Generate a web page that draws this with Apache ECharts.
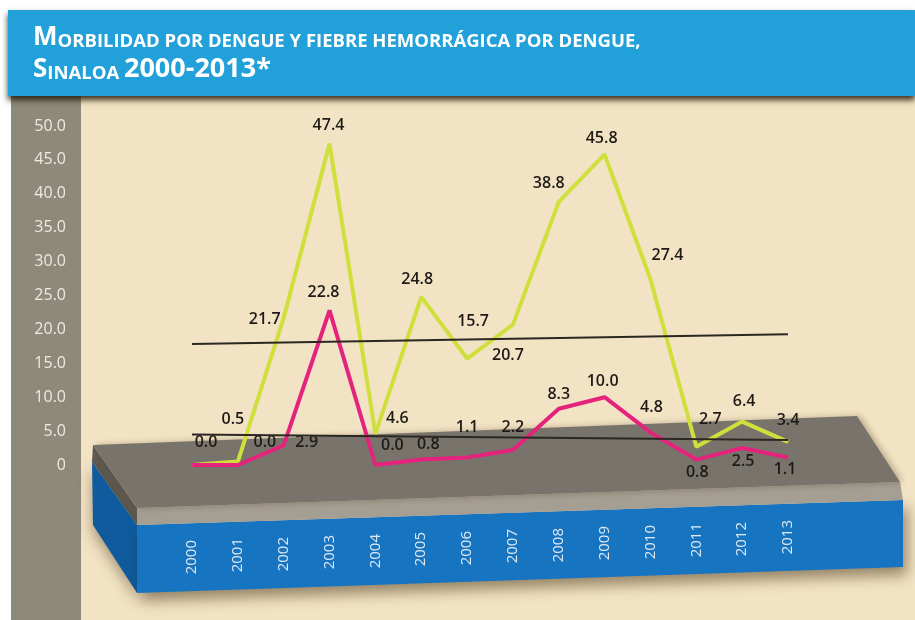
<!DOCTYPE html>
<html>
<head>
<meta charset="utf-8">
<script src="https://cdn.jsdelivr.net/npm/echarts@6/dist/echarts.min.js"></script>
<style>
  html, body { margin: 0; padding: 0; background: #ffffff; }
  #chart { width: 915px; height: 620px; }
</style>
</head>
<body>
<div id="chart"></div>
<script>
// Morbilidad por dengue (DF) y fiebre hemorrágica (FHD), Sinaloa 2000-2013, tasa por 100 000 hab.
const years = ['2000','2001','2002','2003','2004','2005','2006','2007','2008','2009','2010','2011','2012','2013'];
const dengueRate = [0.0, 0.5, 21.7, 47.4, 4.6, 24.8, 15.7, 20.7, 38.8, 45.8, 27.4, 2.7, 6.4, 3.4];
const hemorrhagicRate = [0.0, 0.0, 2.9, 22.8, 0.0, 0.8, 1.1, 2.2, 8.3, 10.0, 4.8, 0.8, 2.5, 1.1];
const yTicks = { min: 0, max: 50, step: 5 };

// Label placement (offset of each value label from its point, in px)
const dengueLabelOffsets = [[14,-23],[-5,-42],[-19,2],[-1,-18],[22,-15],[-4,-17],[6,-37],[-5,31],[-10,-18],[-3,-16],[17,-24],[14,-27],[2,-20],[0,-22]];
const hemorrhagicLabelOffsets = [null,[27,-23],[23,-3],[-6,-18],[17,-20],[7,-15],[0,-30],[0,-23],[0,-14],[-2,-16],[1,-25],[1,13],[1,13],[-3,12]];

// Least-squares linear trend for a series
function trend(values) {
  const n = values.length;
  const mx = (n - 1) / 2;
  const my = values.reduce((a, b) => a + b, 0) / n;
  let sxy = 0, sxx = 0;
  values.forEach((v, i) => { sxy += (i - mx) * (v - my); sxx += (i - mx) * (i - mx); });
  const b = sxy / sxx;
  const a = my - b * mx;
  return [[{ coord: [0, a] }, { coord: [n - 1, a + b * (n - 1)] }]];
}

function pointData(values, offsets) {
  return values.map((v, i) => {
    const off = offsets[i];
    return off
      ? { value: v, label: { show: true, offset: off } }
      : { value: v, label: { show: false } };
  });
}

const labelStyle = {
  position: 'inside',
  fontFamily: 'Open Sans',
  fontWeight: 600,
  fontSize: 16,
  color: '#1e1a16',
  formatter: p => p.value.toFixed(1)
};

// year labels sit on the slanted front face of the platform
const yearRich = {};
years.forEach((y, i) => {
  yearRich['p' + i] = { padding: [0, Math.round(20 * (years.length - 1 - i) / (years.length - 1)), 0, 0] };
});

const chart = echarts.init(document.getElementById('chart'), null, { renderer: 'canvas' });

chart.setOption({
  backgroundColor: '#f3e3c5',
  animation: false,
  grid: { left: 192, right: 127, top: 126, bottom: 155 },
  graphic: [
    { type: 'rect', z: 0, shape: { x: 0, y: 0, width: 915, height: 10 }, style: { fill: '#ffffff' } },
    { type: 'rect', z: 0, shape: { x: 0, y: 0, width: 11, height: 620 }, style: { fill: '#ffffff' } },
    { type: 'rect', z: 0, shape: { x: 11, y: 96, width: 70, height: 524 }, style: { fill: '#8d8a7a' } },
    // platform: left side faces
    { type: 'polygon', z: 0, shape: { points: [[93,445],[137,508],[137,525],[92,462]] }, style: { fill: '#5f5a52' } },
    { type: 'polygon', z: 0, shape: { points: [[92,462],[137,525],[137,593],[93,525]] },
      style: { fill: '#0f5b9e', shadowBlur: 14, shadowColor: 'rgba(60,40,10,0.45)', shadowOffsetY: 6 } },
    // front blue face
    { type: 'polygon', z: 0, shape: { points: [[137,525],[903,500],[903,567],[137,593]] },
      style: { fill: '#1774c1', shadowBlur: 14, shadowColor: 'rgba(60,40,10,0.5)', shadowOffsetY: 8, shadowOffsetX: 4 } },
    // light front strip of the top slab
    { type: 'polygon', z: 0, shape: { points: [[137,508],[900,482],[903,500],[137,525]] }, style: { fill: '#a59e93' } },
    // top face
    { type: 'polygon', z: 0, shape: { points: [[93,445],[857,416],[900,482],[137,508]] },
      style: { fill: '#78746c', shadowBlur: 6, shadowColor: 'rgba(60,40,10,0.3)', shadowOffsetX: 3 } },
    // header band
    { type: 'rect', z: 1, shape: { x: 8, y: 10, width: 907, height: 86 },
      style: { fill: '#22a0d9', shadowBlur: 6, shadowColor: 'rgba(40,30,10,0.9)', shadowOffsetY: 4 } },
    { type: 'text', z: 2, left: 33, top: 25,
      style: {
        text: '{b|M}{s|ORBILIDAD POR DENGUE Y FIEBRE HEMORRÁGICA POR DENGUE,}\n{b|S}{s|INALOA }{y|2000-2013*}',
        fill: '#ffffff',
        rich: {
          b: { fontFamily: 'Open Sans', fontWeight: 'bold', fontSize: 26, lineHeight: 32, verticalAlign: 'bottom', fill: '#ffffff' },
          y: { fontFamily: 'Open Sans', fontWeight: 'bold', fontSize: 27, lineHeight: 32, verticalAlign: 'bottom', fill: '#ffffff' },
          s: { fontFamily: 'Open Sans', fontWeight: 'bold', fontSize: 18.5, lineHeight: 25, verticalAlign: 'bottom', fill: '#ffffff' }
        }
      }
    }
  ],
  xAxis: {
    type: 'category',
    data: years,
    boundaryGap: false,
    z: 3,
    axisLine: { show: false },
    axisTick: { show: false },
    axisLabel: {
      rotate: 90,
      margin: 55,
      fontFamily: 'Open Sans',
      fontSize: 15,
      color: '#dfe9f2',
      formatter: (v, i) => '{p' + i + '|' + v + '}',
      rich: yearRich
    }
  },
  yAxis: {
    type: 'value',
    min: yTicks.min,
    max: yTicks.max,
    interval: yTicks.step,
    z: 3,
    axisLine: { show: false },
    axisTick: { show: false },
    splitLine: { show: false },
    axisLabel: {
      margin: 126,
      fontFamily: 'Open Sans',
      fontSize: 16,
      color: '#eeeae0',
      formatter: v => (v === 0 ? '0' : v.toFixed(1))
    }
  },
  series: [
    {
      name: 'Tendencia',
      type: 'line',
      z: 3,
      data: [],
      markLine: {
        silent: true,
        symbol: 'none',
        label: { show: false },
        lineStyle: { color: '#2b2722', width: 2, type: 'solid' },
        data: trend(dengueRate).concat(trend(hemorrhagicRate))
      }
    },
    {
      name: 'Dengue',
      type: 'line',
      z: 4,
      data: pointData(dengueRate, dengueLabelOffsets),
      symbol: 'circle',
      symbolSize: 1,
      showSymbol: true,
      itemStyle: { color: '#cfe03c' },
      lineStyle: { color: '#cfe03c', width: 4 },
      label: labelStyle
    },
    {
      name: 'Fiebre hemorrágica',
      type: 'line',
      z: 4,
      data: pointData(hemorrhagicRate, hemorrhagicLabelOffsets),
      symbol: 'circle',
      symbolSize: 1,
      showSymbol: true,
      itemStyle: { color: '#e4247c' },
      lineStyle: { color: '#e4247c', width: 4 },
      label: labelStyle
    }
  ]
});
</script>
</body>
</html>
